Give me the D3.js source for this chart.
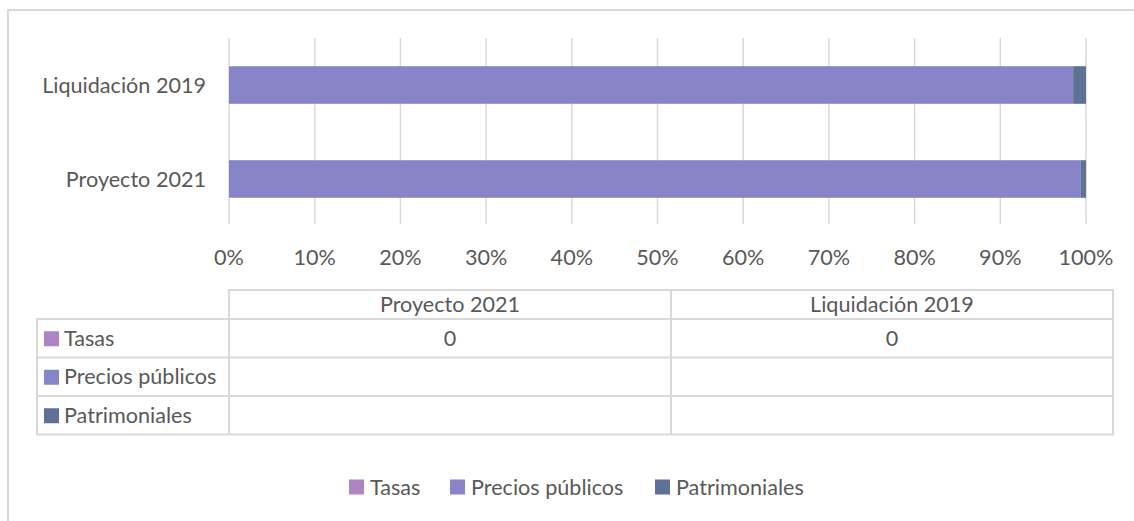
<!DOCTYPE html>
<html><head><meta charset="utf-8">
<script src="https://cdn.jsdelivr.net/npm/d3@7"></script>
<style>
html,body{margin:0;padding:0;background:#fff;}
svg{display:block;}
text{font-family:Lato,"Open Sans",sans-serif;fill:#595959;}
</style></head>
<body>
<script>
// ---- data ----
const categories = ["Proyecto 2021", "Liquidación 2019"];
const seriesNames = ["Tasas", "Precios públicos", "Patrimoniales"];
const tasas = [0, 0];
const preciosPublicos = [99.4, 98.5];
const patrimoniales = [0.6, 1.5];
const tableTasas = ["0", "0"];
const tablePrecios = ["", ""];
const tablePatrimoniales = ["", ""];
const tickLabels = ["0%","10%","20%","30%","40%","50%","60%","70%","80%","90%","100%"];
const colors = ["#AE84C5", "#8884C8", "#5E7196"];

const W = 1134, H = 521;
const FS = 21.6;
const svg = d3.select("body").append("svg").attr("width", W).attr("height", H);

// outer border
svg.append("rect").attr("x", 8).attr("y", 10).attr("width", 1140).attr("height", 530)
  .attr("fill", "none").attr("stroke", "#D9D9D9").attr("stroke-width", 2);

const rows = categories.map((c, i) => ({cat: c, "Tasas": tasas[i], "Precios públicos": preciosPublicos[i], "Patrimoniales": patrimoniales[i]}));
const stack = d3.stack().keys(seriesNames).offset(d3.stackOffsetExpand);
const stacked = stack(rows);

const x = d3.scaleLinear().domain([0, 1]).range([229, 1086]);
const y = d3.scaleBand().domain(categories.slice().reverse()).range([38, 226]).paddingInner(0.6).paddingOuter(0.3);

// gridlines
const ticks = d3.range(0, 1.0001, 0.1);
svg.append("g").selectAll("line").data(ticks).join("line")
  .attr("x1", d => x(d)).attr("x2", d => x(d)).attr("y1", 38).attr("y2", 224)
  .attr("stroke", "#D9D9D9").attr("stroke-width", 1.5);

// bars
svg.append("g").selectAll("g").data(stacked).join("g")
  .attr("fill", (d, i) => colors[i])
  .selectAll("rect").data(d => d).join("rect")
  .attr("x", d => x(d[0])).attr("width", d => x(d[1]) - x(d[0]))
  .attr("y", d => y(d.data.cat)).attr("height", y.bandwidth());

// tick labels
svg.append("g").selectAll("text").data(ticks).join("text")
  .attr("x", d => x(d)).attr("y", 265).attr("text-anchor", "middle")
  .attr("font-size", FS).text((d, i) => tickLabels[i]);

// category labels
svg.append("g").selectAll("text").data(categories).join("text")
  .attr("x", 206).attr("y", d => y(d) + y.bandwidth() / 2).attr("dy", "0.35em")
  .attr("text-anchor", "end").attr("font-size", FS).text(d => d);

// data table
const tx0 = 37, tx1 = 229, tx2 = 671, tx3 = 1113;
const headerTop = 290, rowTop = 319, rowH = 38.5;
const tbl = svg.append("g");
const lineColor = "#D9D9D9";
const colX = d3.scaleBand().domain(categories).range([tx1, tx3]);
// header
tbl.append("rect").attr("x", tx1).attr("y", headerTop).attr("width", tx3 - tx1).attr("height", rowTop - headerTop)
  .attr("fill", "none").attr("stroke", lineColor).attr("stroke-width", 2);
tbl.selectAll("text.h").data(categories).join("text").attr("class", "h")
  .attr("x", d => colX(d) + colX.bandwidth() / 2).attr("y", (headerTop + rowTop) / 2).attr("dy", "0.35em")
  .attr("text-anchor", "middle").attr("font-size", FS).text(d => d);
// body
const tableVals = [tableTasas, tablePrecios, tablePatrimoniales];
tbl.append("rect").attr("x", tx0).attr("y", rowTop).attr("width", tx3 - tx0).attr("height", rowH * 3)
  .attr("fill", "none").attr("stroke", lineColor).attr("stroke-width", 2);
[1, 2].forEach(k => tbl.append("line").attr("x1", tx0).attr("x2", tx3)
  .attr("y1", rowTop + rowH * k).attr("y2", rowTop + rowH * k).attr("stroke", lineColor).attr("stroke-width", 2));
[tx1, tx2].forEach(xx => tbl.append("line").attr("x1", xx).attr("x2", xx)
  .attr("y1", xx === tx2 ? headerTop : rowTop).attr("y2", rowTop + rowH * 3).attr("stroke", lineColor).attr("stroke-width", 2));
seriesNames.forEach((s, i) => {
  const cy = rowTop + rowH * i + rowH / 2;
  tbl.append("rect").attr("x", 44).attr("y", cy - 7).attr("width", 15).attr("height", 15).attr("fill", colors[i]);
  tbl.append("text").attr("x", 64).attr("y", cy).attr("dy", "0.35em").attr("font-size", FS).text(s);
  categories.forEach((c, j) => {
    tbl.append("text").attr("x", colX(c) + colX.bandwidth() / 2).attr("y", cy).attr("dy", "0.35em")
      .attr("text-anchor", "middle").attr("font-size", FS).text(tableVals[i][j]);
  });
});

// legend
const legendItems = [{x: 349}, {x: 450}, {x: 655}];
const lg = svg.append("g");
seriesNames.forEach((s, i) => {
  const g = lg.append("g").attr("transform", `translate(${legendItems[i].x},487)`);
  g.append("rect").attr("x", 0).attr("y", -7.5).attr("width", 15).attr("height", 15).attr("fill", colors[i]);
  g.append("text").attr("x", 21).attr("y", 0).attr("dy", "0.35em").attr("font-size", FS).text(s);
});
</script>
</body></html>
